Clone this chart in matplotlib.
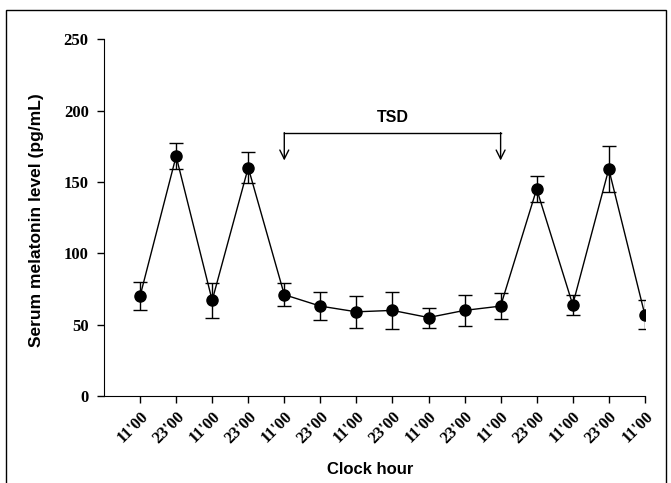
import matplotlib
matplotlib.use("Agg")
import matplotlib.pyplot as plt
from matplotlib.patches import Rectangle

# Data
clock_labels = ["11'00", "23'00", "11'00", "23'00", "11'00", "23'00", "11'00", "23'00",
                "11'00", "23'00", "11'00", "23'00", "11'00", "23'00", "11'00"]
melatonin = [70, 168, 67, 160, 71, 63, 59, 60, 55, 60, 63, 145, 64, 159, 57]
sem = [10, 9, 12, 11, 8, 10, 11, 13, 7, 11, 9, 9, 7, 16, 10]
tsd_start, tsd_end = 5, 11


def main():
    fig = plt.figure(figsize=(6.71, 4.83), dpi=100)
    ax = fig.add_axes([0.155, 0.180, 0.806, 0.739])

    x = list(range(1, len(melatonin) + 1))
    ax.errorbar(x, melatonin, yerr=sem, color="black", marker="o", markersize=8,
                linewidth=1, elinewidth=1, capsize=5, capthick=1)

    # TSD bracket
    ax.plot([tsd_start, tsd_end], [184, 184], color="black", linewidth=1)
    for xx in (tsd_start, tsd_end):
        ax.annotate("", xy=(xx, 165), xytext=(xx, 184.5),
                    arrowprops=dict(arrowstyle="->", color="black", lw=1,
                                    shrinkA=0, shrinkB=0, mutation_scale=16))
    ax.text((tsd_start + tsd_end) / 2, 195, "TSD", ha="center", va="center",
            fontsize=11.5, fontweight="bold", family="Liberation Sans")

    ax.set_xlim(0, 15)
    ax.set_ylim(0, 250)
    ax.set_yticks([0, 50, 100, 150, 200, 250])
    ax.set_xticks(x)
    ax.set_xticklabels(clock_labels, rotation=45, ha="right", rotation_mode="anchor")
    for lab in ax.get_xticklabels() + ax.get_yticklabels():
        lab.set_family("Liberation Serif")
        lab.set_fontweight("bold")
        lab.set_fontsize(12)
    ax.tick_params(direction="out", length=5, width=1, color="black")
    ax.tick_params(axis="x", pad=4)
    ax.tick_params(axis="y", pad=6)
    ax.spines["top"].set_visible(False)
    ax.spines["right"].set_visible(False)

    fig.text(37 / 671, 1 - 220 / 483, "Serum melatonin level (pg/mL)", ha="center",
             va="center", rotation=90, fontsize=12.5, fontweight="bold",
             family="Liberation Sans")
    fig.text(370 / 671, 1 - 470 / 483, "Clock hour", ha="center", va="center",
             fontsize=12, fontweight="bold", family="Liberation Sans")

    # outer frame
    fig.patches.append(Rectangle((6 / 671, -0.05), 660 / 671, 1.05 - 10 / 483,
                                 transform=fig.transFigure, fill=False,
                                 edgecolor="black", linewidth=1))

    fig.savefig("out.png", dpi=100)
    plt.close(fig)


if __name__ == "__main__":
    main()
